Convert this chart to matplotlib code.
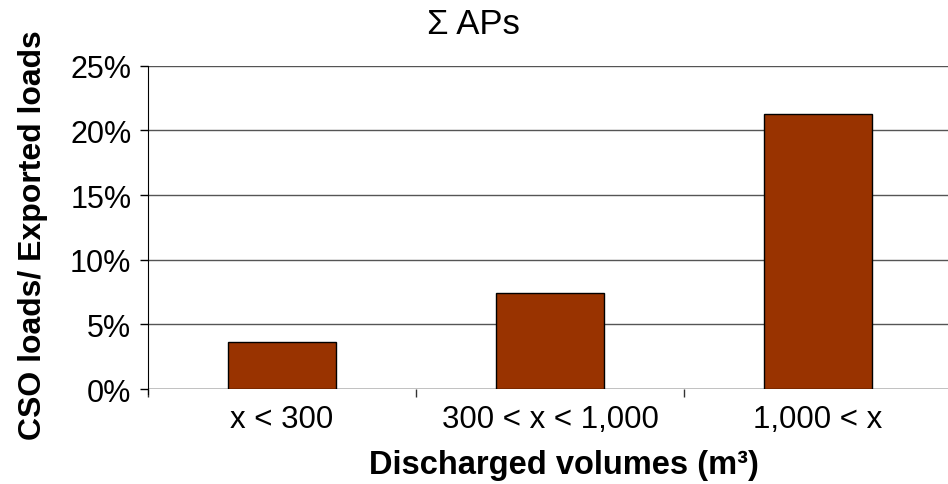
import matplotlib
matplotlib.use("Agg")
import matplotlib.pyplot as plt
from matplotlib.ticker import PercentFormatter, FixedLocator

# --- Data ---
categories = ["x < 300", "300 < x < 1,000", "1,000 < x"]
shares = [3.6, 7.4, 21.3]  # % of exported loads

plt.rcParams['font.family'] = ['Liberation Sans', 'DejaVu Sans']

# --- Plotting ---
fig = plt.figure(figsize=(9.48, 4.85), dpi=100)
ax = fig.add_axes([148 / 948, 1 - 390 / 485, 1 - 148 / 948, (390 - 66.7) / 485])

x = list(range(len(categories)))
ax.bar(x, shares, width=0.4, color='#993300', edgecolor='black', linewidth=1, zorder=3)

ax.set_ylim(0, 25)
ax.set_xlim(-0.5, 2.485)
ax.set_yticks([0, 5, 10, 15, 20, 25])
ax.yaxis.set_major_formatter(PercentFormatter(decimals=0))
ax.grid(axis='y', color='#555555', linewidth=1, zorder=0)

ax.set_xticks(x)
ax.set_xticklabels(categories)
ax.xaxis.set_minor_locator(FixedLocator([-0.5, 0.5, 1.5]))
ax.tick_params(axis='x', which='major', length=0, pad=11, labelsize=22.5)
ax.tick_params(axis='x', which='minor', length=6, width=1, direction='out', color='#333333')
ax.tick_params(axis='y', length=6, width=1, direction='out', pad=6, labelsize=22)

for side in ['top', 'right', 'bottom']:
    ax.spines[side].set_visible(False)
ax.spines['left'].set_color('black')
ax.spines['left'].set_bounds(-0.4, 25)
ax.axhline(0, color='#555555', linewidth=1, zorder=2)

fig.text(473 / 948, 1 - 25 / 485, "Σ APs", ha='center', va='center', fontsize=25)
fig.text(564 / 948, 1 - 466 / 485, "Discharged volumes (m³)", ha='center', va='center',
         fontsize=23.5, fontweight='bold')
fig.text(33 / 948, 1 - 235 / 485, "CSO loads/ Exported loads", ha='center', va='center',
         rotation=90, fontsize=23, fontweight='bold')

plt.savefig("out.png", dpi=100)
plt.close()
